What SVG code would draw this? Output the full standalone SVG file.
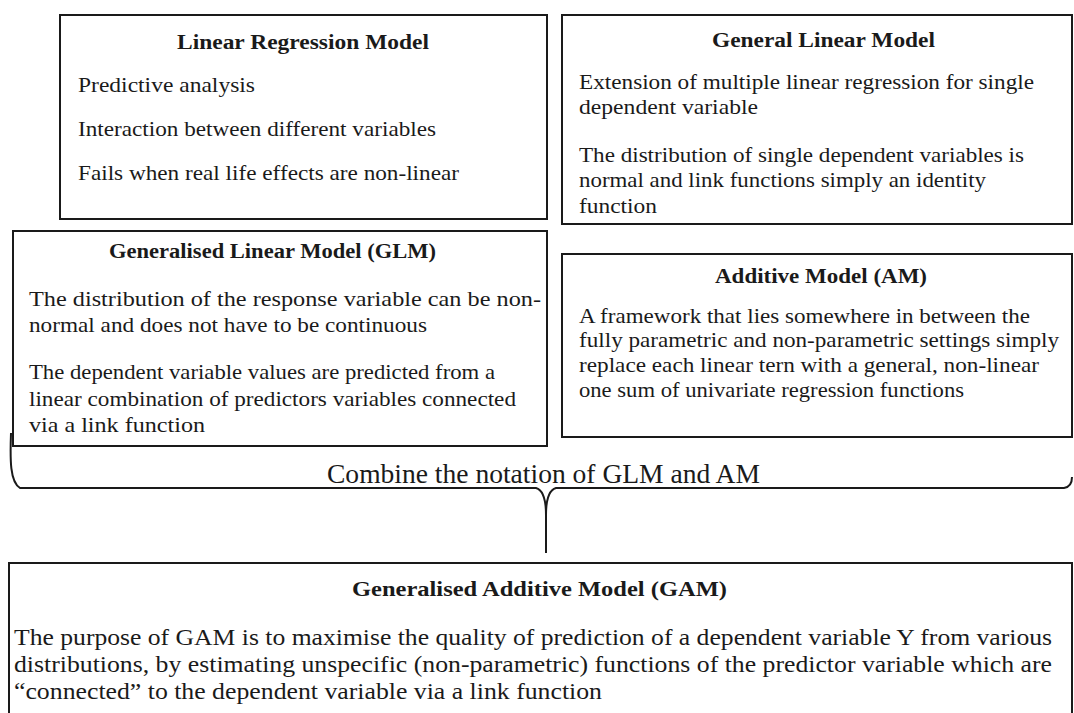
<svg xmlns="http://www.w3.org/2000/svg" width="1074" height="713" viewBox="0 0 1074 713">
<style>
.box{fill:#fff;stroke:#1a1a1a;stroke-width:2}
.t{font-family:"Liberation Serif","Times New Roman",serif;fill:#1a1a1a;font-size:21px}
.h{font-family:"Liberation Serif","Times New Roman",serif;fill:#1a1a1a;font-size:20px;font-weight:bold}
.brace{fill:none;stroke:#1a1a1a;stroke-width:2}
</style>
<rect width="1074" height="713" fill="#fff"/>
<g id="linear-regression">
<rect class="box" x="60" y="15" width="487" height="204"/>
<text class="h" x="177" y="49" textLength="252" lengthAdjust="spacingAndGlyphs">Linear Regression Model</text>
<text class="t" x="78" y="92" textLength="177" lengthAdjust="spacingAndGlyphs">Predictive analysis</text>
<text class="t" x="78" y="136" textLength="358" lengthAdjust="spacingAndGlyphs">Interaction between different variables</text>
<text class="t" x="78" y="180" textLength="381" lengthAdjust="spacingAndGlyphs">Fails when real life effects are non-linear</text>
</g>
<g id="general-linear">
<rect class="box" x="562" y="15" width="510" height="209"/>
<text class="h" x="712" y="47" textLength="223" lengthAdjust="spacingAndGlyphs">General Linear Model</text>
<text class="t" x="579" y="89" textLength="455" lengthAdjust="spacingAndGlyphs">Extension of multiple linear regression for single</text>
<text class="t" x="579" y="114" textLength="179" lengthAdjust="spacingAndGlyphs">dependent variable</text>
<text class="t" x="579" y="162" textLength="445" lengthAdjust="spacingAndGlyphs">The distribution of single dependent variables is</text>
<text class="t" x="579" y="187" textLength="407" lengthAdjust="spacingAndGlyphs">normal and link functions simply an identity</text>
<text class="t" x="579" y="213" textLength="78" lengthAdjust="spacingAndGlyphs">function</text>
</g>
<g id="glm">
<rect class="box" x="13" y="231" width="534" height="215"/>
<text class="h" x="109" y="258" textLength="327" lengthAdjust="spacingAndGlyphs">Generalised Linear Model (GLM)</text>
<text class="t" x="29" y="306" textLength="512" lengthAdjust="spacingAndGlyphs">The distribution of the response variable can be non-</text>
<text class="t" x="29" y="332" textLength="398" lengthAdjust="spacingAndGlyphs">normal and does not have to be continuous</text>
<text class="t" x="29" y="379" textLength="466" lengthAdjust="spacingAndGlyphs">The dependent variable values are predicted from a</text>
<text class="t" x="29" y="406" textLength="487" lengthAdjust="spacingAndGlyphs">linear combination of predictors variables connected</text>
<text class="t" x="29" y="432" textLength="176" lengthAdjust="spacingAndGlyphs">via a link function</text>
</g>
<g id="am">
<rect class="box" x="562" y="254" width="510" height="183"/>
<text class="h" x="715" y="283" textLength="212" lengthAdjust="spacingAndGlyphs">Additive Model (AM)</text>
<text class="t" x="579" y="323" textLength="451" lengthAdjust="spacingAndGlyphs">A framework that lies somewhere in between the</text>
<text class="t" x="579" y="347" textLength="480" lengthAdjust="spacingAndGlyphs">fully parametric and non-parametric settings simply</text>
<text class="t" x="579" y="372" textLength="460" lengthAdjust="spacingAndGlyphs">replace each linear tern with a general, non-linear</text>
<text class="t" x="579" y="397" textLength="385" lengthAdjust="spacingAndGlyphs">one sum of univariate regression functions</text>
</g>
<g id="connectors">
<path class="brace" d="M 11 433 C 10 460, 10 482, 20 488 L 536 488 C 543 490, 546 500, 546 515 L 546 553 M 546 515 C 546 500, 549 490, 556 488 L 1064 488 C 1070 487, 1072 483, 1072 477"/>
<text class="t" x="327" y="483" style="font-size:27px" textLength="433" lengthAdjust="spacingAndGlyphs">Combine the notation of GLM and AM</text>
</g>
<g id="gam">
<rect class="box" x="9" y="563" width="1063" height="160"/>
<text class="h" x="352" y="596" style="font-size:22px" textLength="375" lengthAdjust="spacingAndGlyphs">Generalised Additive Model (GAM)</text>
<text class="t" x="14" y="645" style="font-size:24px" textLength="1038" lengthAdjust="spacingAndGlyphs">The purpose of GAM is to maximise the quality of prediction of a dependent variable Y from various</text>
<text class="t" x="14" y="672" style="font-size:24px" textLength="1038" lengthAdjust="spacingAndGlyphs">distributions, by estimating unspecific (non-parametric) functions of the predictor variable which are</text>
<text class="t" x="14" y="699" style="font-size:24px" textLength="588" lengthAdjust="spacingAndGlyphs">“connected” to the dependent variable via a link function</text>
</g>
</svg>
